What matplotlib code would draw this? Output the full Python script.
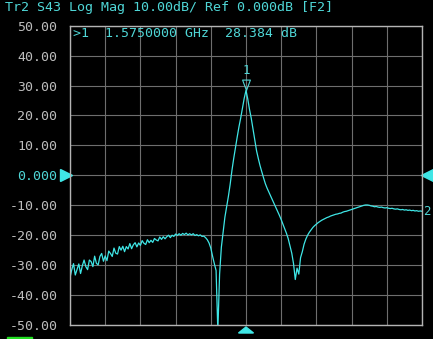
import numpy as np
import matplotlib
matplotlib.use('Agg')
import matplotlib.pyplot as plt
from matplotlib.path import Path
from matplotlib.patches import Polygon, Rectangle
import matplotlib.transforms as mtransforms

trace_color = '#3fe6e6'
text_color = '#4fd6d6'
label_gray = '#bdbdbd'
grid_gray = '#6e6e6e'
font = 'DejaVu Sans Mono'

# sweep: 201 points, 1.325 - 1.825 GHz
f_start = 1.325
f_stop = 1.825
n_points = 201
marker_freq = 1.575
marker_val = 28.384

s43_db = [
    -34.2, -31.5, -29.5, -33.3, -31.5, -29.6, -32.8, -30.2, -28.3, -30.5,
    -31.5, -28.3, -28.8, -30.5, -27.0, -29.4, -29.9, -27.1, -26.1, -28.7,
    -26.9, -28.5, -25.3, -26.1, -27.1, -24.3, -26.0, -26.3, -23.8, -25.0,
    -23.7, -25.5, -23.8, -24.6, -22.8, -24.5, -23.2, -22.5, -23.9, -22.6,
    -23.4, -21.8, -22.7, -23.1, -21.5, -22.5, -21.7, -22.4, -21.1, -21.6,
    -21.9, -20.6, -21.4, -20.5, -21.2, -20.5, -20.0, -20.8, -20.0, -20.4,
    -19.6, -20.1, -19.5, -20.0, -19.4, -19.8, -19.3, -19.9, -19.5, -19.9,
    -19.5, -20.1, -19.8, -20.2, -19.9, -20.4, -20.3, -20.8, -21.5, -22.6,
    -24.3, -27.0, -29.5, -31.8, -52.0, -33.0, -24.0, -19.0, -14.0, -10.5,
    -7.0, -3.0, 1.6, 5.6, 9.3, 12.8, 16.2, 19.2, 22.5, 25.8,
    28.384, 25.5, 22.0, 19.0, 15.4, 11.8, 8.2, 5.6, 3.2, 1.1,
    -0.9, -2.8, -4.3, -5.6, -6.9, -8.2, -9.5, -10.8, -12.1, -13.4,
    -14.8, -16.3, -17.7, -19.4, -21.2, -23.6, -26.0, -29.5, -34.8, -31.0,
    -33.0, -27.5, -25.5, -23.0, -21.3, -20.0, -19.0, -18.2, -17.4, -16.8,
    -16.3, -15.8, -15.4, -15.0, -14.7, -14.4, -14.1, -13.9, -13.6, -13.4,
    -13.2, -13.0, -12.9, -12.7, -12.6, -12.3, -12.1, -12.0, -11.8, -11.6,
    -11.4, -11.2, -11.0, -10.8, -10.6, -10.4, -10.2, -10.0, -9.9, -9.9,
    -10.0, -10.2, -10.3, -10.5, -10.4, -10.6, -10.7, -10.6, -10.8, -10.9,
    -10.8, -11.0, -11.1, -11.0, -11.2, -11.3, -11.2, -11.4, -11.5, -11.4,
    -11.6, -11.5, -11.7, -11.6, -11.8, -11.7, -11.9, -11.8, -12.0, -11.9,
    -12.0,
]

y_ticks = [50, 40, 30, 20, 10, 0, -10, -20, -30, -40, -50]

freq = np.linspace(f_start, f_stop, n_points)

fig = plt.figure(figsize=(4.33, 3.39), dpi=100, facecolor='black')
ax = fig.add_axes([70 / 433, 14 / 339, 352 / 433, 299.3 / 339])
ax.set_facecolor('black')

ax.plot(freq, s43_db, color=trace_color, linewidth=0.9)

ax.set_xlim(f_start, f_stop)
ax.set_ylim(-50, 50)
ax.set_xticks(np.linspace(f_start, f_stop, 11))
ax.set_xticklabels([])
ax.set_yticks(y_ticks)
ax.set_yticklabels(['0.000' if v == 0 else '%.2f' % v for v in y_ticks])
for lbl, v in zip(ax.get_yticklabels(), y_ticks):
    lbl.set_color(text_color if v == 0 else label_gray)
    lbl.set_fontfamily(font)
    lbl.set_fontsize(9.5)
ax.tick_params(length=0, pad=9)
ax.grid(True, color=grid_gray, linewidth=0.8)
for sp in ax.spines.values():
    sp.set_color('#b4b4b4')
    sp.set_linewidth(1.0)

# header and marker readout
fig.text(5 / 433, 1 - 7.5 / 339, 'Tr2 S43 Log Mag 10.00dB/ Ref 0.000dB [F2]',
         color=text_color, fontfamily=font, fontsize=9.6, va='center', ha='left')
ax.text(3 / 352, 1 - 8 / 299, '>1  1.5750000 GHz  28.384 dB', transform=ax.transAxes,
        color=text_color, fontfamily=font, fontsize=9.5, va='center', ha='left')

# marker 1 (down triangle with tip on the trace)
tri = Path([(-0.6, 1.6), (0.6, 1.6), (0, 0), (-0.6, 1.6)],
           [Path.MOVETO, Path.LINETO, Path.LINETO, Path.CLOSEPOLY])
ax.plot([marker_freq], [marker_val], marker=tri, markersize=15, markerfacecolor='none',
        markeredgecolor=text_color, markeredgewidth=0.8, linestyle='none')
ax.annotate('1', (marker_freq, marker_val), xytext=(0, 14), textcoords='offset points',
            color=text_color, fontfamily=font, fontsize=9, ha='center', va='center')

# trace number at the right end
ax.annotate('2', (freq[-1], s43_db[-1]), xytext=(3.5, 0), textcoords='offset points',
            color=text_color, fontfamily=font, fontsize=9, ha='center', va='center',
            annotation_clip=False)

# reference level arrows
blend = mtransforms.blended_transform_factory(ax.transAxes, ax.transData)
ax.plot([-0.011], [0], marker='>', markersize=8, color=trace_color, transform=blend,
        clip_on=False, linestyle='none')
ax.plot([1.013], [0], marker='<', markersize=8, color=trace_color, transform=blend,
        clip_on=False, linestyle='none')

# stimulus centre arrow below the grid
ax.add_patch(Polygon([(0.5 - 7.5 / 352, -8 / 299), (0.5 + 7.5 / 352, -8 / 299),
                      (0.5, -2 / 299)], closed=True, transform=ax.transAxes,
                     color=trace_color, clip_on=False))

# cut-off softkey at the bottom edge
fig.patches.append(Rectangle((7 / 433, 0), 25 / 433, 2 / 339, transform=fig.transFigure,
                             color='#22dd22'))

fig.savefig('out.png', dpi=100, facecolor='black')
